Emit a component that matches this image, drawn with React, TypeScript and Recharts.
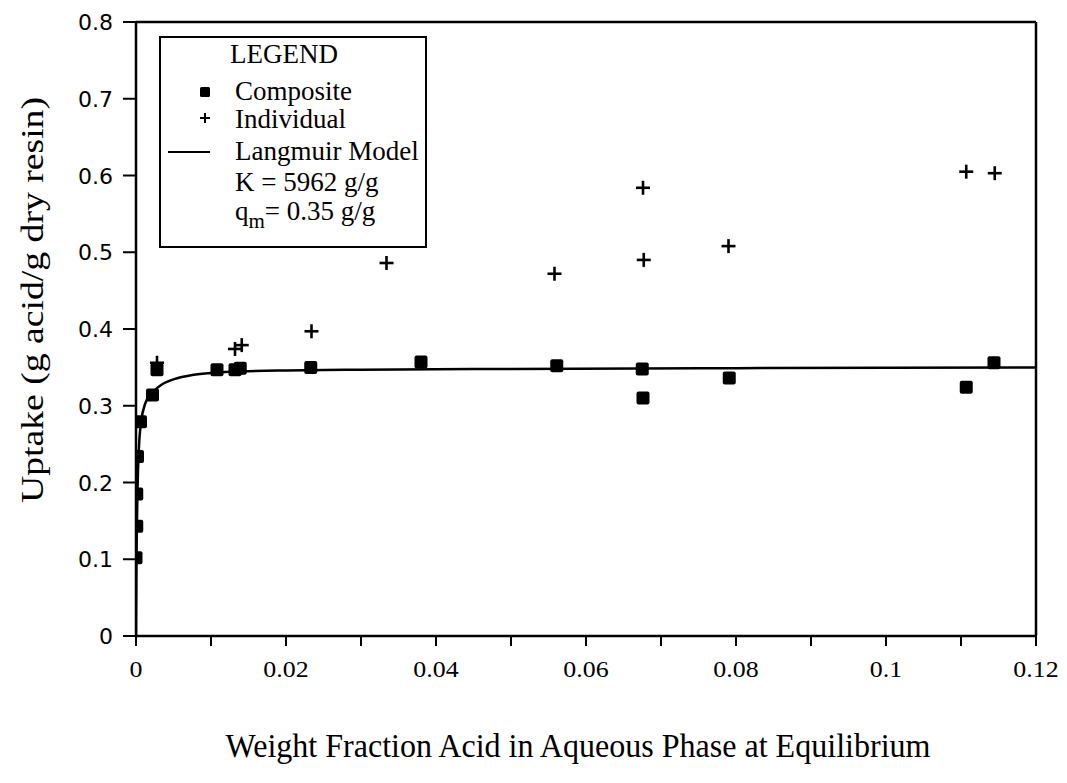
import React from "react";
import {
  ComposedChart,
  Scatter,
  Line,
  XAxis,
  YAxis,
  ReferenceLine,
} from "recharts";

// composite resin samples
const compositeX = [
  0.0, 0.0001, 0.0001, 0.0002, 0.0006, 0.0022, 0.0028, 0.0108, 0.0132, 0.0139,
  0.0233, 0.038, 0.0561, 0.0675, 0.0676, 0.0791, 0.1107, 0.1144,
];
const compositeY = [
  0.102, 0.143, 0.185, 0.234, 0.279, 0.314, 0.347, 0.347, 0.347, 0.349, 0.35,
  0.357, 0.352, 0.348, 0.31, 0.336, 0.324, 0.356,
];

// individual resin samples
const individualX = [
  0.0028, 0.0132, 0.0141, 0.0234, 0.0334, 0.0558, 0.0676, 0.0677, 0.079,
  0.1107, 0.1145,
];
const individualY = [
  0.356, 0.374, 0.379, 0.397, 0.486, 0.472, 0.584, 0.49, 0.508, 0.605, 0.603,
];

// Langmuir model curve
const modelX = [
  0, 0.00002, 0.00005, 0.0001, 0.0002, 0.0004, 0.0007, 0.0012, 0.0021, 0.0028,
  0.0035, 0.0052, 0.0075, 0.0103, 0.015, 0.02, 0.03, 0.05, 0.08, 0.12,
];
const modelY = [
  0, 0.038, 0.08, 0.131, 0.19, 0.247, 0.28, 0.302, 0.316, 0.323, 0.328, 0.335,
  0.34, 0.343, 0.345, 0.346, 0.347, 0.348, 0.349, 0.35,
];

const xTicks = [
  0, 0.01, 0.02, 0.03, 0.04, 0.05, 0.06, 0.07, 0.08, 0.09, 0.1, 0.11, 0.12,
];
const xTickLabels = ["0", "", "0.02", "", "0.04", "", "0.06", "", "0.08", "", "0.1", "", "0.12"];
const yTicks = [0, 0.1, 0.2, 0.3, 0.4, 0.5, 0.6, 0.7, 0.8];
const yTickLabels = ["0", "0.1", "0.2", "0.3", "0.4", "0.5", "0.6", "0.7", "0.8"];

const composite = compositeX.map((x, i) => ({ x, y: compositeY[i] }));
const individual = individualX.map((x, i) => ({ x, y: individualY[i] }));
const model = modelX.map((x, i) => ({ x, y: modelY[i] }));

const SERIF = "'Liberation Serif', 'Times New Roman', serif";

const Square = (props: any) => {
  const { cx, cy } = props;
  return <rect x={cx - 6.5} y={cy - 6.5} width={13} height={13} rx={2} fill="#000" />;
};

const Cross = (props: any) => {
  const { cx, cy } = props;
  return (
    <g stroke="#000" strokeWidth={2.6}>
      <line x1={cx - 7} y1={cy} x2={cx + 7} y2={cy} />
      <line x1={cx} y1={cy - 7} x2={cx} y2={cy + 7} />
    </g>
  );
};

const XTick = (props: any) => {
  const { x, y, index } = props;
  return (
    <g transform={`translate(${x},${y})`}>
      <text
        transform="scale(1.08,1)"
        textAnchor="middle"
        y={23}
        fontFamily={SERIF}
        fontSize={24}
        fill="#000"
      >
        {xTickLabels[index]}
      </text>
    </g>
  );
};

const YTick = (props: any) => {
  const { x, y, index } = props;
  return (
    <text
      x={x}
      y={y + 8}
      textAnchor="end"
      fontFamily="'DejaVu Sans', sans-serif"
      fontSize={22}
      fill="#000"
    >
      {yTickLabels[index]}
    </text>
  );
};

export default function App() {
  return (
    <div style={{ position: "absolute", left: 0, top: 0, width: 1067, height: 783, background: "#fff" }}>
      <ComposedChart
        width={1067}
        height={783}
        margin={{ top: 22, right: 31, bottom: 107, left: 56 }}
      >
        <XAxis
          type="number"
          dataKey="x"
          domain={[0, 0.12]}
          ticks={xTicks}
          interval={0}
          height={40}
          tick={<XTick />}
          tickSize={10}
          tickMargin={8}
          axisLine={{ stroke: "#000", strokeWidth: 2.5 }}
          tickLine={{ stroke: "#000", strokeWidth: 2 }}
          allowDataOverflow
        />
        <YAxis
          type="number"
          dataKey="y"
          domain={[0, 0.8]}
          ticks={yTicks}
          interval={0}
          width={80}
          tick={<YTick />}
          tickSize={13}
          tickMargin={10}
          axisLine={{ stroke: "#000", strokeWidth: 2.5 }}
          tickLine={{ stroke: "#000", strokeWidth: 2 }}
        />
        <ReferenceLine y={0.8} stroke="#000" strokeWidth={2.5} />
        <ReferenceLine x={0.12} stroke="#000" strokeWidth={2.5} />
        <Line
          data={model}
          dataKey="y"
          type="monotone"
          stroke="#000"
          strokeWidth={2.5}
          dot={false}
          activeDot={false}
          isAnimationActive={false}
        />
        <Scatter data={composite} dataKey="y" shape={<Square />} isAnimationActive={false} />
        <Scatter data={individual} dataKey="y" shape={<Cross />} isAnimationActive={false} />
      </ComposedChart>

      <svg
        width={1067}
        height={783}
        style={{ position: "absolute", left: 0, top: 0, pointerEvents: "none" }}
      >
        <text
          x={578}
          y={757}
          textAnchor="middle"
          fontFamily={SERIF}
          fontSize={34}
          textLength={705}
          lengthAdjust="spacingAndGlyphs"
        >
          Weight Fraction Acid in Aqueous Phase at Equilibrium
        </text>
        <text
          transform="translate(43,300) rotate(-90)"
          textAnchor="middle"
          fontFamily={SERIF}
          fontSize={32}
          textLength={406}
          lengthAdjust="spacingAndGlyphs"
        >
          Uptake (g acid/g dry resin)
        </text>

        {/* legend */}
        <rect x={160} y={37} width={266} height={210} fill="#fff" stroke="#000" strokeWidth={2} />
        <g fontFamily={SERIF} fontSize={27} fill="#000">
          <text x={230} y={63}>LEGEND</text>
          <rect x={200} y={87} width={10} height={10} rx={1.5} fill="#000" />
          <text x={235} y={100}>Composite</text>
          <g stroke="#000" strokeWidth={2}>
            <line x1={200} y1={118} x2={210} y2={118} />
            <line x1={205} y1={113} x2={205} y2={123} />
          </g>
          <text x={235} y={128}>Individual</text>
          <line x1={168} y1={152} x2={210} y2={152} stroke="#000" strokeWidth={2} />
          <text x={235} y={160}>Langmuir Model</text>
          <text x={235} y={191}>K  = 5962 g/g</text>
          <text x={235} y={220}>
            q<tspan dy={8} fontSize={21}>m</tspan>
            <tspan dy={-8}>= 0.35 g/g</tspan>
          </text>
        </g>
      </svg>
    </div>
  );
}
